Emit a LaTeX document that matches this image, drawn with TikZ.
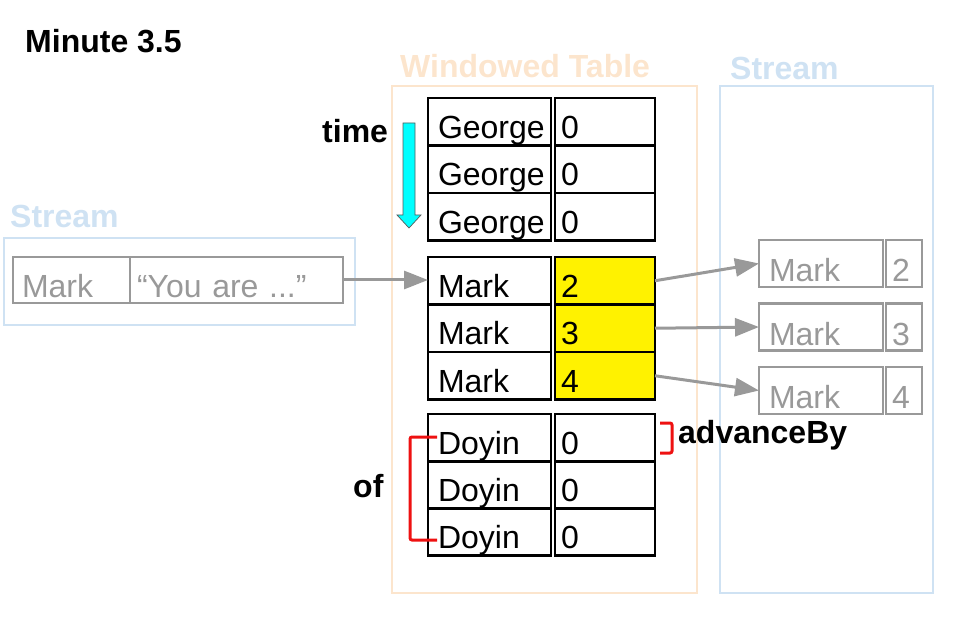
\documentclass[tikz,border=0pt]{standalone}
\usepackage{fontspec}
\setmainfont{Liberation Sans}
\usetikzlibrary{arrows.meta}
\definecolor{recgrey}{HTML}{999999}
\definecolor{lblue}{HTML}{CFE2F3}
\definecolor{lorange}{HTML}{FCE5CD}
\definecolor{aqua}{HTML}{00FFFF}
\definecolor{brred}{HTML}{EE1111}
\newcommand\myfs{\fontsize{32pt}{36pt}\selectfont}
\newcommand\mybf{\bfseries\fontsize{32pt}{36pt}\selectfont}
\begin{document}
\begin{tikzpicture}[x=1pt,y=-1pt,
  cellbase/.style={draw=black, line width=2.8pt, outer sep=0pt, anchor=north west, inner ysep=0pt,
    text height=40.5pt, text depth=7pt, align=left, font=\myfs},
  cellL/.style={cellbase, inner xsep=10pt, text width=103pt},
  cellR/.style={cellbase, inner xsep=6pt, text width=88pt},
  recbase/.style={draw=recgrey, text=recgrey, line width=2.8pt, outer sep=0pt, anchor=north west, inner ysep=0pt,
    text height=42pt, text depth=5pt, align=left, font=\myfs},
  recL/.style={recbase, inner xsep=10pt, text width=104pt},
  recR/.style={recbase, inner xsep=6pt, text width=24pt},
  lrec/.style={recbase, text height=41pt, inner xsep=9pt},
  garrow/.style={draw=recgrey, line width=3pt, -{Triangle[length=24pt,width=18pt]}},
  boldlabel/.style={anchor=base west, inner sep=0pt, font=\mybf},
  container/.style={line width=2.8pt, outer sep=0pt, anchor=north west, inner sep=0pt},
  brace/.style={draw=brred, line width=3pt, rounded corners=2pt}
]
\useasboundingbox (0,0) rectangle (959,620);

% containers
\node[container, draw=lorange, minimum width=305pt, minimum height=507pt] (wtbox) at (392,86) {};
\node[container, draw=lblue, minimum width=213pt, minimum height=507pt] (rsbox) at (720,86) {};
\node[container, draw=lblue, minimum width=351pt, minimum height=87pt] (lsbox) at (4,238) {};

% titles
\node[boldlabel] (minute) at (25,53) {Minute 3.5};
\node[boldlabel, text=lorange] (wttitle) at (400,78) {Windowed Table};
\node[boldlabel, text=lblue] (rstitle) at (730,79.5) {Stream};
\node[boldlabel, text=lblue] (lstitle) at (10,228) {Stream};
\node[boldlabel] (timelbl) at (322,142.5) {time};
\node[boldlabel] (oflbl) at (353,497) {of};
\node[boldlabel] (advlbl) at (678,443) {advanceBy};

% George rows
\node[cellL] (g1) at (428,98) {George};
\node[cellR] (g1v) at (555,98) {0};
\node[cellL] (g2) at (428,145.5) {George};
\node[cellR] (g2v) at (555,145.5) {0};
\node[cellL] (g3) at (428,193) {George};
\node[cellR] (g3v) at (555,193) {0};

% Mark rows
\node[cellL] (m1) at (428,257) {Mark};
\node[cellR, fill=yellow] (m1v) at (555,257) {2};
\node[cellL] (m2) at (428,304.5) {Mark};
\node[cellR, fill=yellow] (m2v) at (555,304.5) {3};
\node[cellL] (m3) at (428,352) {Mark};
\node[cellR, fill=yellow] (m3v) at (555,352) {4};

% Doyin rows
\node[cellL] (d1) at (428,414) {Doyin};
\node[cellR] (d1v) at (555,414) {0};
\node[cellL] (d2) at (428,461) {Doyin};
\node[cellR] (d2v) at (555,461) {0};
\node[cellL] (d3) at (428,508) {Doyin};
\node[cellR] (d3v) at (555,508) {0};

% left stream record
\node[lrec, text width=99pt] (lm) at (13,257) {Mark};
\node[lrec, inner xsep=7pt, text width=199pt] (ly) at (130,257) {“You are ...”};

% right stream records
\node[recL] (r1) at (759,240) {Mark};
\node[recR] (r1v) at (886,240) {2};
\node[recL] (r2) at (759,303.5) {Mark};
\node[recR] (r2v) at (886,303.5) {3};
\node[recL] (r3) at (759,367) {Mark};
\node[recR] (r3v) at (886,367) {4};

% connectors
\draw[garrow] (ly.east) -- (ly.east -| m1.west);
\draw[garrow] (m1v.east) -- (r1.west);
\draw[garrow] (m2v.east) -- (r2.west);
\draw[garrow] (m3v.east) -- (r3.west);

% time arrow
\filldraw[fill=aqua, draw=black!65, line width=0.7pt]
  (403,123) -- (415,123) -- (415,215) -- (421,215) -- (409,228) -- (397,215) -- (403,215) -- cycle;

% brackets
\draw[brace] (437,437) -- (410,437) -- (410,540) -- (437,540);
\draw[brace] (660,423) -- (672,423) -- (672,453) -- (660,453);
\end{tikzpicture}
\end{document}
